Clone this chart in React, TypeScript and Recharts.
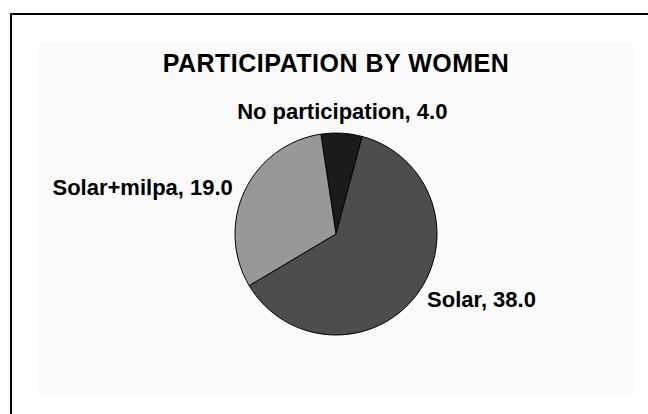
import React from "react";
import { PieChart, Pie, Cell } from "recharts";

const categories = ["No participation", "Solar", "Solar+milpa"];
const values = [4.0, 38.0, 19.0];
const colors = ["#1b1b1b", "#4d4d4d", "#989898"];
const title = "PARTICIPATION BY WOMEN";

const data = categories.map((name, i) => ({ name, value: values[i] }));

const RAD = Math.PI / 180;
const FONT = "'Liberation Sans', Arial, Helvetica, sans-serif";

const renderLabel = (props: any) => {
  const { cx, cy, midAngle, outerRadius, name, value } = props;
  const r = outerRadius + 12;
  const c = Math.cos(-midAngle * RAD);
  const s = Math.sin(-midAngle * RAD);
  const x = cx + r * c;
  const y = cy + r * s;
  let anchor: "start" | "middle" | "end" = "middle";
  if (c > 0.3) anchor = "start";
  else if (c < -0.3) anchor = "end";
  const text = `${name}, ${Number(value).toFixed(1)}`;
  if (anchor === "middle") {
    return (
      <text x={x} y={y - 2} textAnchor="middle" fill="#000" fontSize={22} fontWeight="bold" fontFamily={FONT}>
        {text}
      </text>
    );
  }
  return (
    <text
      x={anchor === "start" ? x + 1 : x - 1}
      y={y + (anchor === "start" ? -3 : 2)}
      textAnchor={anchor}
      dominantBaseline="central"
      fill="#000"
      fontSize={22}
      fontWeight="bold"
      fontFamily={FONT}
    >
      {text}
    </text>
  );
};

export default function App() {
  return (
    <div style={{ position: "absolute", left: 0, top: 0, width: 648, height: 414, background: "#fff", overflow: "hidden" }}>
      <div
        style={{
          position: "absolute",
          left: 10,
          top: 13,
          width: 700,
          height: 500,
          borderLeft: "2px solid #000",
          borderTop: "2px solid #000",
          boxSizing: "border-box",
        }}
      />
      <div style={{ position: "absolute", left: 39, top: 42, width: 594, height: 351, background: "#fafafa" }} />
      <svg width={648} height={414} style={{ position: "absolute", left: 0, top: 0 }}>
        <text x={336} y={72} textAnchor="middle" fontSize={25} fontWeight="bold" fontFamily={FONT} fill="#000" letterSpacing={0.5}>
          {title}
        </text>
      </svg>
      <div style={{ position: "absolute", left: 0, top: 0 }}>
        <PieChart width={648} height={414} margin={{ top: 0, right: 0, bottom: 0, left: 0 }}>
          <Pie
            data={data}
            dataKey="value"
            nameKey="name"
            cx={336}
            cy={234}
            outerRadius={101}
            startAngle={98.6}
            endAngle={-261.4}
            stroke="#000"
            strokeWidth={1}
            label={renderLabel}
            labelLine={false}
            isAnimationActive={false}
          >
            {data.map((d, i) => (
              <Cell key={d.name} fill={colors[i]} />
            ))}
          </Pie>
        </PieChart>
      </div>
    </div>
  );
}
